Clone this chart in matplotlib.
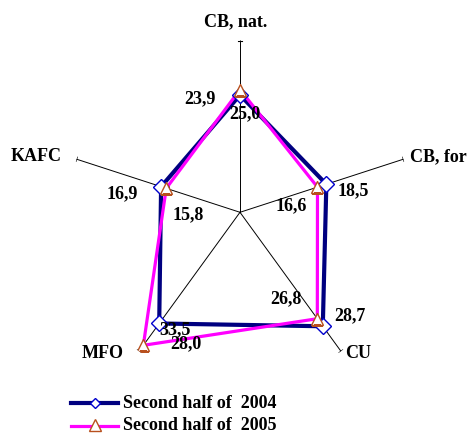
import numpy as np
import matplotlib.pyplot as plt

categories = ['CB, nat.', 'CB, for', 'CU', 'MFO', 'KAFC']
h2_2004 = [23.9, 18.5, 28.7, 28.0, 16.9]
h2_2005 = [25.0, 16.6, 26.8, 33.5, 15.8]
series_names = ['Second half of  2004', 'Second half of  2005']
rmax = 35

plt.rcParams['font.family'] = ['Liberation Serif', 'DejaVu Serif']
plt.rcParams['font.weight'] = 'bold'
FS = 13

fig = plt.figure(figsize=(4.67, 4.34), dpi=100)
ax = fig.add_axes([0.146, 0.115, 0.7358, 0.7917], projection='polar')
ax.set_theta_offset(np.pi / 2)
ax.set_theta_direction(-1)
ax.set_ylim(0, rmax)
ax.grid(False)
ax.spines['polar'].set_visible(False)
ax.set_xticks([])
ax.set_yticks([])
ax.patch.set_alpha(0)

n = len(categories)
angles = np.arange(n) * 2 * np.pi / n

# spokes with small end ticks
for a in angles:
    ax.plot([a, a], [0, rmax], color='black', lw=0.7, zorder=1)
    d = 0.013
    ax.plot([a - d, a + d], [rmax, rmax], color='black', lw=0.8, zorder=1)

# category labels (offsets in pixels from spoke end)
cat_pos = [((-4, 19), 'center'), ((7, 2), 'left'), ((4, -2), 'left'),
           ((-15, -2), 'right'), ((-15, 3), 'right')]
for a, c, (off, ha) in zip(angles, categories, cat_pos):
    ax.annotate(c, (a, rmax), xytext=off, textcoords='offset pixels',
                ha=ha, va='center', fontsize=FS, fontweight='bold')

ang_c = np.append(angles, angles[0])
v04 = np.append(h2_2004, h2_2004[0])
v05 = np.append(h2_2005, h2_2005[0])

ax.plot(ang_c, v04, color='#000080', lw=3.0, zorder=3)
ax.plot(ang_c, v05, color='#FF00FF', lw=2.3, zorder=4)
ax.plot(angles, h2_2004, ls='none', marker='D', ms=8, mfc='white',
        mec='#0000CC', mew=1.0, zorder=5)
ax.plot(angles, h2_2005, ls='none', marker='^', ms=8.5, mfc='white',
        mec='#B8501E', mew=1.0, zorder=6)

# value labels, Excel style (pixel offsets)
off04 = [(-40, -4), (27, -7), (27, 11), (27, -20), (-39, -7)]
off05 = [(5, -24), (-26, -19), (-31, 20), (32, 16), (22, -26)]
for a, v, off in zip(angles, h2_2004, off04):
    ax.annotate(f'{v:.1f}'.replace('.', ','), (a, v), xytext=off,
                textcoords='offset pixels', ha='center', va='center',
                fontsize=FS, fontweight='bold', zorder=7)
for a, v, off in zip(angles, h2_2005, off05):
    ax.annotate(f'{v:.1f}'.replace('.', ','), (a, v), xytext=off,
                textcoords='offset pixels', ha='center', va='center',
                fontsize=FS, fontweight='bold', zorder=7)

# legend, pixel coordinates
lax = fig.add_axes([0, 0, 1, 1])
lax.set_xlim(0, 467)
lax.set_ylim(434, 0)
lax.axis('off')
lax.patch.set_alpha(0)
lax.plot([71, 118], [403, 403], color='#000080', lw=3.0)
lax.plot([94.5], [403], marker='D', ms=5.5, mfc='white', mec='#0000CC', mew=1.0)
lax.plot([71, 118], [426, 426], color='#FF00FF', lw=2.3)
lax.plot([94.5], [425], marker='^', ms=8, mfc='white', mec='#B8501E', mew=1.0)
lax.text(123, 403, series_names[0], va='center', ha='left', fontsize=FS, fontweight='bold')
lax.text(123, 426, series_names[1], va='center', ha='left', fontsize=FS, fontweight='bold')

fig.savefig('out.png', dpi=100)
